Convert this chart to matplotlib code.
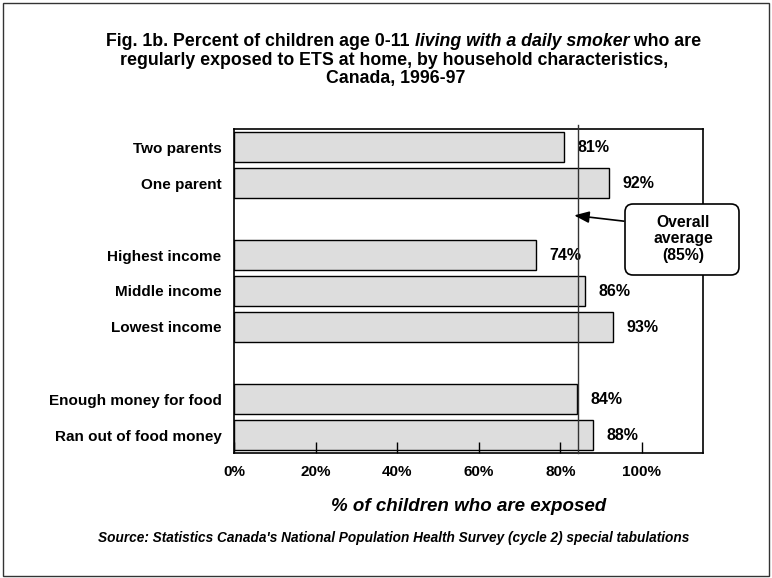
import matplotlib
matplotlib.use("Agg")
import matplotlib.pyplot as plt
from matplotlib.patches import FancyBboxPatch, Rectangle

plt.rcParams["font.family"] = ["Liberation Sans", "DejaVu Sans"]

# data, top to bottom; None marks an empty slot between groups
categories = ["Two parents", "One parent", None,
              "Highest income", "Middle income", "Lowest income", None,
              "Enough money for food", "Ran out of food money"]
values = [81, 92, None, 74, 86, 93, None, 84, 88]
xticks = [0, 20, 40, 60, 80, 100]
xtick_labels = ["0%", "20%", "40%", "60%", "80%", "100%"]
average = 84.3          # where the reference draws the line
average_label = "Overall\naverage\n(85%)"

W, H = 772, 578
fig = plt.figure(figsize=(W / 100, H / 100), dpi=100)
ax = fig.add_axes([234 / W, 1 - 453 / H, 469 / W, 324 / H])

pos = [i for i, v in enumerate(values) if v is not None]
vals = [values[i] for i in pos]
labs = [categories[i] for i in pos]

ax.barh(pos, vals, height=0.83, color="#dddddd", edgecolor="black", linewidth=1)
for p, v in zip(pos, vals):
    ax.text(v + 3.3, p, f"{v}%", ha="left", va="center",
            fontsize=11.5, fontweight="bold")

ax.set_xlim(0, 115)
ax.set_ylim(len(categories) - 0.5, -0.5)
ax.set_yticks(pos)
ax.set_yticklabels(labs, fontsize=11, fontweight="bold")
ax.tick_params(axis="y", length=0, pad=9)
ax.set_xticks(xticks)
ax.set_xticklabels(xtick_labels, fontsize=11, fontweight="bold")
ax.tick_params(axis="x", direction="in", length=8, width=1, pad=9)
for s in ax.spines.values():
    s.set_linewidth(1.2)

# average line, sticking out a bit above the plot area
ax.plot([average, average], [len(categories) - 0.5, -0.62],
        color="#333333", linewidth=1, clip_on=False, zorder=3)

# callout box with arrow
box = FancyBboxPatch((625, H - 275), 114, 71,
                     boxstyle="round,pad=0,rounding_size=8",
                     transform=None, facecolor="white", edgecolor="black",
                     linewidth=1.2, zorder=5)
fig.patches.append(box)
fig.text(683 / W, 1 - 239 / H, average_label, ha="center", va="center",
         fontsize=11.3, fontweight="bold", linespacing=1.12, zorder=6)
ax.annotate("", xy=(83.4, 1.9), xytext=(95.6, 2.06),
            arrowprops=dict(arrowstyle="-|>,head_length=0.9,head_width=0.35",
                            color="black", lw=1.2, shrinkA=0, shrinkB=0),
            annotation_clip=False)

ax.set_xlabel("% of children who are exposed", fontsize=13.5,
              fontweight="bold", style="italic", labelpad=13)

# title with an italic piece in line 1
def mixed_line(parts, y, cx, size):
    r = fig.canvas.get_renderer()
    texts = []
    for s, st in parts:
        t = fig.text(0, y, s, fontsize=size, fontweight="bold", style=st,
                     ha="left", va="center")
        texts.append(t)
    widths = [t.get_window_extent(r).width for t in texts]
    x = cx - sum(widths) / 2
    for t, w in zip(texts, widths):
        t.set_x(x / W)
        x += w

title_size = 12.8
mixed_line([("Fig. 1b. Percent of children age 0-11 ", "normal"),
            ("living with a daily smoker", "italic"),
            (" who are", "normal")], 1 - 42 / H, 404, title_size)
fig.text(394 / W, 1 - 60.5 / H,
         "regularly exposed to ETS at home, by household characteristics,",
         ha="center", va="center", fontsize=title_size, fontweight="bold")
fig.text(396 / W, 1 - 79 / H, "Canada, 1996-97",
         ha="center", va="center", fontsize=title_size, fontweight="bold")

fig.text(394 / W, 1 - 538 / H,
         "Source: Statistics Canada's National Population Health Survey "
         "(cycle 2) special tabulations",
         ha="center", va="center", fontsize=9.8, fontweight="bold", style="italic")

fig.patches.append(Rectangle((3 / W, 2 / H), 766 / W, 573 / H,
                             transform=fig.transFigure, fill=False,
                             edgecolor="#333333", linewidth=1))

fig.savefig("out.png", dpi=100)
